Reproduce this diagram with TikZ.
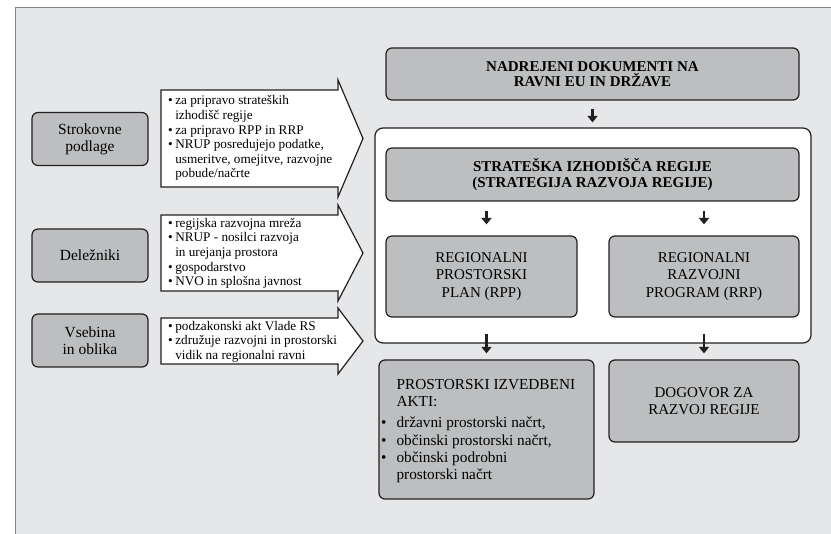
\documentclass[tikz,border=0pt]{standalone}
\usepackage{fontspec}
\setmainfont{Liberation Serif}
\usetikzlibrary{arrows.meta}
\definecolor{panel}{HTML}{E6E7E8}
\definecolor{boxfill}{HTML}{BCBEC0}
\definecolor{ink}{HTML}{231F20}
\definecolor{framegray}{HTML}{808285}

\begin{document}
\begin{tikzpicture}[x=1pt,y=-1pt,
  greybox/.style={draw=ink, line width=1.2pt, fill=boxfill, rounded corners=6pt,
    inner sep=0pt, align=center},
  sidebox/.style={greybox, minimum width=116pt, minimum height=53pt,
    font=\fontsize{15.5}{17}\selectfont},
  capsbox/.style={greybox, font=\fontsize{15}{17.5}\selectfont},
  boldbox/.style={greybox, font=\fontsize{15}{15.5}\selectfont\bfseries},
  callout/.style={draw=ink, line width=1.2pt, fill=white, line join=miter},
  calltext/.style={anchor=west, inner sep=0pt, font=\fontsize{13.2}{14.6}\selectfont},
  darr/.style={draw=ink, line width=2.8pt, -{Triangle[width=10pt,length=6.5pt]}}
]
\useasboundingbox (0,0) rectangle (831,534);
\clip (0,0) rectangle (831,534);

% panel behind the scheme
\fill[panel] (15,8) rectangle (845,550);
\draw[framegray, line width=1pt] (15,550) -- (15,8) -- (845,8);

% left column: inputs
\node[sidebox] (sp) at (90,139) {Strokovne\\podlage};
\node[sidebox] (dl) at (90,255.5) {Deležniki};
\node[sidebox] (vo) at (90,340.5) {Vsebina\\in oblika};

% callout arrows with their lists
\draw[callout] (161,90) -- (338,90) -- (338,80) -- (363,138.5) -- (338,197)
  -- (338,187) -- (161,187) -- cycle;
\node[calltext] (c1) at (168,138.5) {\begin{tabular}{@{}l@{\hspace{2.5pt}}l@{}}
  \textbullet & za pripravo strateških\\
              & izhodišč regije\\
  \textbullet & za pripravo RPP in RRP\\
  \textbullet & NRUP posredujejo podatke,\\
              & usmeritve, omejitve, razvojne\\
              & pobude/načrte
\end{tabular}};

\draw[callout] (161,215) -- (338,215) -- (338,205) -- (363,253) -- (338,301)
  -- (338,291) -- (161,291) -- cycle;
\node[calltext] (c2) at (168,253.5) {\begin{tabular}{@{}l@{\hspace{2.5pt}}l@{}}
  \textbullet & regijska razvojna mreža\\
  \textbullet & NRUP - nosilci razvoja\\
              & in urejanja prostora\\
  \textbullet & gospodarstvo\\
  \textbullet & NVO in splošna javnost
\end{tabular}};

\draw[callout] (161,318) -- (338,318) -- (338,308) -- (363,341) -- (338,374)
  -- (338,364) -- (161,364) -- cycle;
\node[calltext] (c3) at (168,342) {\begin{tabular}{@{}l@{\hspace{2.5pt}}l@{}}
  \textbullet & podzakonski akt Vlade RS\\
  \textbullet & združuje razvojni in prostorski\\
              & vidik na regionalni ravni
\end{tabular}};

% right column: documents
\node[boldbox, minimum width=413pt, minimum height=52pt] (nad) at (592.5,74)
  {NADREJENI DOKUMENTI NA\\RAVNI EU IN DRŽAVE};

\node[draw=ink, line width=1.2pt, fill=white, rounded corners=8pt, inner sep=0pt,
  minimum width=436pt, minimum height=215pt] (cont) at (593,235.5) {};

\node[boldbox, minimum width=413pt, minimum height=53pt] (strat) at (592.5,174.5)
  {STRATEŠKA IZHODIŠČA REGIJE\\(STRATEGIJA RAZVOJA REGIJE)};

\node[capsbox, minimum width=191pt, minimum height=81pt] (rpp) at (481.5,276.5)
  {REGIONALNI\\PROSTORSKI\\PLAN (RPP)};
\node[capsbox, minimum width=190pt, minimum height=81pt] (rrp) at (704,276.5)
  {REGIONALNI\\RAZVOJNI\\PROGRAM (RRP)};

\node[greybox, minimum width=215pt, minimum height=139pt] (pia) at (486.5,429.5) {};
\node[anchor=west, inner sep=0pt, font=\fontsize{15.3}{17.2}\selectfont] (piatext)
  at (381,431) {\begin{tabular}{@{}l@{\hspace{10pt}}l@{}}
               & PROSTORSKI IZVEDBENI\\
               & AKTI:\\[4pt]
   \textbullet & državni prostorski načrt,\\
   \textbullet & občinski prostorski načrt,\\
   \textbullet & občinski podrobni\\
               & prostorski načrt
\end{tabular}};

\node[capsbox, minimum width=190pt, minimum height=82pt] (dog) at (704,401)
  {DOGOVOR ZA\\RAZVOJ REGIJE};

% flow arrows
\draw[darr, shorten <=8pt, shorten >=5pt] (nad.south) -- (nad.south |- cont.north);
\draw[darr, shorten <=9pt, shorten >=11pt] (strat.south -| pia.north) -- (pia.north |- rpp.north);
\draw[darr, shorten <=9pt, shorten >=11pt] (strat.south -| rrp.north) -- (rrp.north);
\draw[darr, shorten <=16pt, shorten >=6pt] (rpp.south -| pia.north) -- (pia.north);
\draw[darr, shorten <=16pt, shorten >=6pt] (rrp.south) -- (dog.north);
\end{tikzpicture}
\end{document}
